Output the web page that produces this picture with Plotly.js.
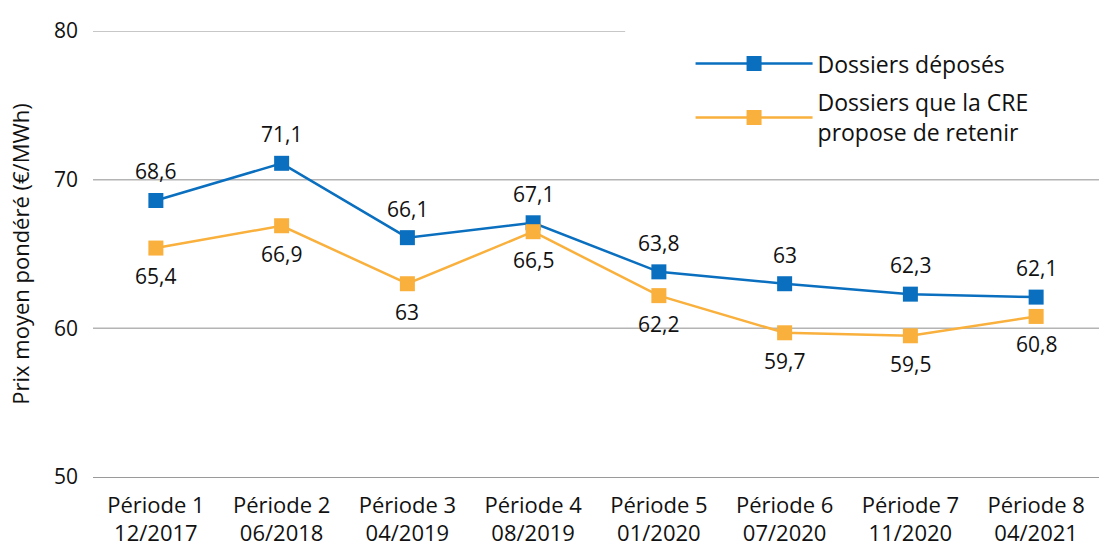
<!DOCTYPE html>
<html>
<head>
<meta charset="utf-8">
<script src="https://cdn.plot.ly/plotly-3.0.1.min.js"></script>
<style>html,body{margin:0;padding:0;background:#fff;}#chart{width:1099px;height:549px;}</style>
</head>
<body>
<div id="chart"></div>
<script>
const periods = ["Période 1<br>12/2017","Période 2<br>06/2018","Période 3<br>04/2019","Période 4<br>08/2019","Période 5<br>01/2020","Période 6<br>07/2020","Période 7<br>11/2020","Période 8<br>04/2021"];
const deposes = [68.6, 71.1, 66.1, 67.1, 63.8, 63.0, 62.3, 62.1];
const retenus = [65.4, 66.9, 63.0, 66.5, 62.2, 59.7, 59.5, 60.8];
const seriesNames = ["Dossiers déposés", "Dossiers que la CRE<br>propose de retenir"];
const yTicks = [50, 60, 70, 80];

const BLUE = "#0a6fbf";
const ORANGE = "#f9b03c";
const GRID = "#b4b4b4";
const FONT = "Open Sans, Noto Sans, sans-serif";
const TXT = "#111";
const fmt = v => String(v).replace(".", ",");

const traces = [
  {x: periods, y: deposes, name: seriesNames[0], legendgroup: "a", type: "scatter", mode: "lines+markers",
   line: {color: BLUE, width: 2.5}, marker: {symbol: "square", size: 15, color: BLUE}},
  {x: periods, y: retenus, name: seriesNames[1], legendgroup: "b", type: "scatter", mode: "lines+markers",
   line: {color: ORANGE, width: 2.5}, marker: {symbol: "square", size: 15, color: ORANGE}}
];

const annotations = [];
periods.forEach((p, i) => {
  annotations.push({x: p, y: deposes[i], xref: "x", yref: "y", text: fmt(deposes[i]), showarrow: false, yshift: 29, font: {size: 21, color: TXT, family: FONT}});
  annotations.push({x: p, y: retenus[i], xref: "x", yref: "y", text: fmt(retenus[i]), showarrow: false, yshift: -28, font: {size: 21, color: TXT, family: FONT}});
});

// horizontal gridlines (the top one stops where the legend box begins)
const yMax = Math.max(...yTicks);
const shapes = yTicks.slice(1).map(v => ({
  type: "line", xref: "paper", yref: "y", x0: 0, x1: v === yMax ? 0.529 : 1, y0: v, y1: v,
  layer: "below", line: {color: GRID, width: 1.5}
}));

const layout = {
  width: 1099, height: 549,
  margin: {l: 93, r: 0, t: 31, b: 72},
  paper_bgcolor: "#fff", plot_bgcolor: "#fff",
  font: {family: FONT, size: 21, color: TXT},
  showlegend: true,
  legend: {x: 0.594, xanchor: "left", y: 0.975, yanchor: "top", bgcolor: "rgba(255,255,255,0)",
           font: {size: 23, color: TXT, family: FONT}, itemwidth: 117, tracegroupgap: 6},
  xaxis: {type: "category", range: [-0.5, 7.5], showgrid: false, zeroline: false,
          showline: true, linecolor: "#9a9a9a", linewidth: 1.2,
          ticks: "", ticklabelstandoff: 8, tickfont: {size: 22, color: TXT, family: FONT}, fixedrange: true},
  yaxis: {range: [50, 80], tickvals: yTicks, ticktext: yTicks.map(String), showgrid: false,
          zeroline: false, showline: false, ticks: "",
          ticklabelstandoff: 14, tickfont: {size: 21, color: TXT, family: FONT},
          title: {text: "Prix moyen pondéré (€/MWh)", font: {size: 22, color: TXT, family: FONT}, standoff: 18},
          fixedrange: true},
  shapes: shapes,
  annotations: annotations
};

Plotly.newPlot("chart", traces, layout, {displayModeBar: false, staticPlot: true});
</script>
</body>
</html>
